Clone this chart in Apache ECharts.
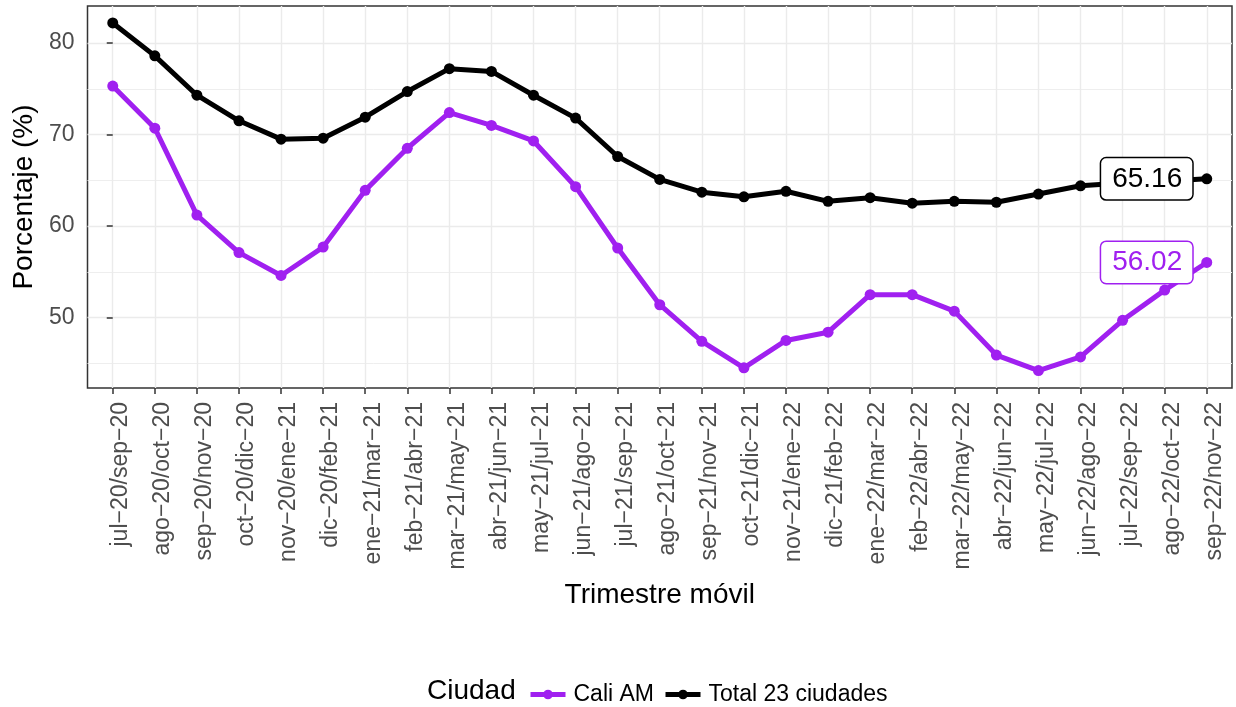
<!DOCTYPE html>
<html><head><meta charset="utf-8">
<script src="https://cdn.jsdelivr.net/npm/echarts@6/dist/echarts.min.js"></script>
<style>html,body{margin:0;padding:0;background:#fff}#c{width:1236px;height:707px}</style>
</head><body><div id="c"></div>
<script>
const categories = [
  'jul−20/sep−20','ago−20/oct−20','sep−20/nov−20','oct−20/dic−20','nov−20/ene−21','dic−20/feb−21',
  'ene−21/mar−21','feb−21/abr−21','mar−21/may−21','abr−21/jun−21','may−21/jul−21','jun−21/ago−21',
  'jul−21/sep−21','ago−21/oct−21','sep−21/nov−21','oct−21/dic−21','nov−21/ene−22','dic−21/feb−22',
  'ene−22/mar−22','feb−22/abr−22','mar−22/may−22','abr−22/jun−22','may−22/jul−22','jun−22/ago−22',
  'jul−22/sep−22','ago−22/oct−22','sep−22/nov−22'
];
const caliValues = [75.3, 70.7, 61.2, 57.1, 54.6, 57.7, 63.9, 68.5, 72.4, 71.0, 69.3, 64.3, 57.6, 51.4,
  47.4, 44.5, 47.5, 48.4, 52.5, 52.5, 50.7, 45.9, 44.2, 45.7, 49.7, 53.0, 56.02];
const totalValues = [82.2, 78.6, 74.3, 71.5, 69.5, 69.6, 71.9, 74.7, 77.2, 76.9, 74.3, 71.8, 67.6, 65.1,
  63.7, 63.2, 63.8, 62.7, 63.1, 62.5, 62.7, 62.6, 63.5, 64.4, 64.7, 64.9, 65.16];
const yMajorTicks = [50, 60, 70, 80];
const yMinorTicks = [45, 55, 65, 75];
const seriesNames = ['Cali AM', 'Total 23 ciudades'];
const seriesColors = ['#A020F0', '#000000'];
const legendTitle = 'Ciudad';
const xTitle = 'Trimestre móvil';
const yTitle = 'Porcentaje (%)';

const FONT = '"Liberation Sans", Arial, Helvetica, sans-serif';
const xIdx = categories.map((_, i) => i);
const last = categories.length - 1;

function buildData(values, color) {
  return values.map((v, i) => i === last ? {
    value: [i, v],
    label: {
      show: true, position: 'left', distance: 9,
      formatter: (p) => p.value[1].toFixed(2),
      fontSize: 28, color: color, fontFamily: FONT,
      backgroundColor: '#fff', borderColor: color, borderWidth: 1.5, borderRadius: 5,
      padding: [6, 10, 7, 11], lineHeight: 28
    }
  } : [i, v]);
}

const chart = echarts.init(document.getElementById('c'), null, { renderer: 'canvas' });
chart.setOption({
  animation: false,
  backgroundColor: '#fff',
  textStyle: { fontFamily: FONT },
  grid: { left: 87.5, right: 4, top: 6, bottom: 319, show: true, borderColor: '#333', borderWidth: 1.5, backgroundColor: '#fff', containLabel: false },
  xAxis: {
    type: 'value', min: -0.6, max: 26.6,
    axisLine: { show: false },
    axisTick: { show: true, customValues: xIdx, length: 6, lineStyle: { color: '#333', width: 1.5 } },
    axisLabel: { customValues: xIdx, formatter: (v) => categories[Math.round(v)], rotate: 90, fontSize: 23, color: '#4D4D4D', margin: 14, verticalAlign: 'top', lineHeight: 16, fontFamily: FONT },
    splitLine: { show: true, lineStyle: { color: '#EBEBEB', width: 1.4 } },
    name: xTitle, nameLocation: 'middle', nameGap: 193,
    nameTextStyle: { fontSize: 28, color: '#000', fontFamily: FONT }
  },
  yAxis: [{
    type: 'value', min: 42.3, max: 84.05, position: 'left',
    axisLine: { show: false },
    axisTick: { show: true, customValues: yMajorTicks, length: 6, lineStyle: { color: '#333', width: 1.5 } },
    axisLabel: { customValues: yMajorTicks, fontSize: 23, color: '#4D4D4D', margin: 13, fontFamily: FONT },
    splitLine: { show: true, lineStyle: { color: '#EBEBEB', width: 1.4 } },
    name: yTitle, nameLocation: 'middle', nameGap: 48,
    nameTextStyle: { fontSize: 28, color: '#000', fontFamily: FONT }
  }, {
    type: 'value', min: 42.3, max: 84.05, position: 'left', offset: 0,
    axisLine: { show: false },
    axisTick: { show: false, customValues: yMinorTicks },
    axisLabel: { show: false, customValues: yMinorTicks },
    splitLine: { show: true, lineStyle: { color: '#EEEEEE', width: 1.0 } }
  }],
  legend: {
    left: 523, top: 678, itemWidth: 35, itemHeight: 12, itemGap: 9,
    data: seriesNames,
    lineStyle: { width: 5 },
    textStyle: { fontSize: 23, color: '#000', fontFamily: FONT, padding: [0, 0, 0, 3] }
  },
  graphic: [{
    type: 'text', x: 427, y: 691,
    style: { text: legendTitle, fontSize: 28, fill: '#000', fontFamily: FONT, verticalAlign: 'middle' }
  }],
  series: [{
    name: seriesNames[0], type: 'line', yAxisIndex: 0,
    data: buildData(caliValues, seriesColors[0]),
    symbol: 'circle', symbolSize: 11,
    lineStyle: { color: seriesColors[0], width: 5 },
    itemStyle: { color: seriesColors[0] }
  }, {
    name: seriesNames[1], type: 'line', yAxisIndex: 0,
    data: buildData(totalValues, seriesColors[1]),
    symbol: 'circle', symbolSize: 11,
    lineStyle: { color: seriesColors[1], width: 5 },
    itemStyle: { color: seriesColors[1] }
  }]
});
</script></body></html>
